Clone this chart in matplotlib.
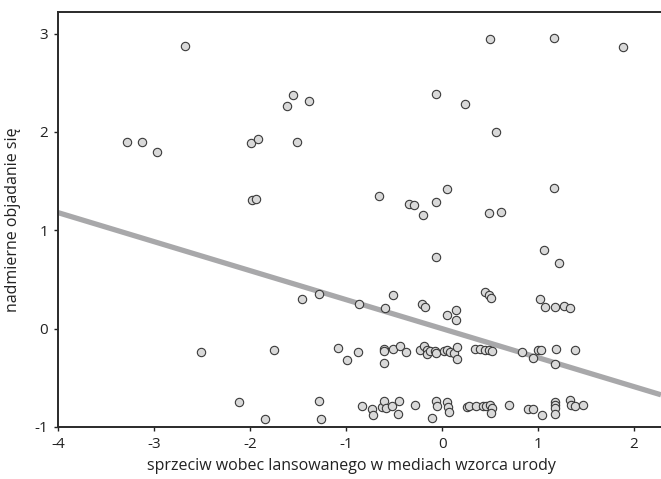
import numpy as np
import matplotlib
matplotlib.use("Agg")
import matplotlib.pyplot as plt

plt.rcParams['font.family'] = ['Open Sans', 'DejaVu Sans']

# === DATA ===
x_vals = [
    # upper part
    -2.68, -3.28, -3.13, -2.97, -1.99, -1.92, -1.98, -1.94,
    -1.55, -1.62, -1.39, -1.51, -0.06, 0.24, 0.50, 1.17, 1.88, 0.56, 1.17,
    -0.66, -0.34, -0.29, -0.20, -0.06, 0.05, 0.49, 0.61, -0.06,
    1.06, 1.22,
    # around 0.3
    -1.46, -1.28, -0.87, -0.59, -0.51, -0.21, -0.18, 0.14, 0.05, 0.14,
    0.45, 0.49, 0.51, 1.02, 1.07, 1.18, 1.27, 1.33,
    # around -0.2
    -2.51, -1.75, -1.08, -0.99, -0.88, -0.61, -0.60, -0.61, -0.51, -0.44, -0.38,
    -0.23, -0.19, -0.16, -0.16, -0.13, -0.07, -0.06, 0.02, 0.05, 0.08, 0.12,
    0.16, 0.16, 0.34, 0.40, 0.45, 0.49, 0.52,
    0.83, 0.95, 1.00, 1.03, 1.19, 1.18, 1.38,
    # bottom band
    -2.11, -1.84, -1.28, -1.26, -0.83, -0.73, -0.72, -0.63, -0.61, -0.58,
    -0.52, -0.45, -0.46, -0.28, -0.11, -0.06, -0.05, 0.05, 0.06, 0.07,
    0.26, 0.28, 0.35, 0.43, 0.46, 0.50, 0.52, 0.51, 0.70, 0.90, 0.95,
    1.04, 1.18, 1.18, 1.18, 1.18, 1.33, 1.34, 1.38, 1.47,
]
y_vals = [
    2.87, 1.90, 1.90, 1.80, 1.89, 1.93, 1.31, 1.32,
    2.38, 2.26, 2.32, 1.90, 2.39, 2.28, 2.95, 2.96, 2.86, 2.00, 1.43,
    1.35, 1.27, 1.26, 1.16, 1.29, 1.42, 1.18, 1.19, 0.73,
    0.80, 0.67,
    0.30, 0.35, 0.25, 0.21, 0.34, 0.25, 0.22, 0.19, 0.14, 0.09,
    0.37, 0.34, 0.31, 0.30, 0.22, 0.22, 0.23, 0.21,
    -0.24, -0.22, -0.20, -0.32, -0.24, -0.21, -0.23, -0.35, -0.21, -0.18, -0.24,
    -0.22, -0.18, -0.22, -0.26, -0.23, -0.23, -0.25, -0.23, -0.22, -0.24, -0.25,
    -0.19, -0.31, -0.21, -0.21, -0.22, -0.22, -0.23,
    -0.24, -0.30, -0.22, -0.22, -0.21, -0.36, -0.22,
    -0.75, -0.92, -0.74, -0.92, -0.79, -0.82, -0.88, -0.80, -0.74, -0.81,
    -0.79, -0.74, -0.87, -0.78, -0.91, -0.74, -0.79, -0.75, -0.80, -0.85,
    -0.80, -0.79, -0.79, -0.79, -0.79, -0.78, -0.81, -0.86, -0.78, -0.82, -0.82,
    -0.88, -0.75, -0.78, -0.81, -0.87, -0.73, -0.78, -0.79, -0.78,
]

# regression line (intercept, slope)
fit_intercept = 0.0
fit_slope = -0.295

x_label = "sprzeciw wobec lansowanego w mediach wzorca urody"
y_label = "nadmierne objadanie się"
x_ticks = [-4, -3, -2, -1, 0, 1, 2]
y_ticks = [-1, 0, 1, 2, 3]

# === FIGURE ===
fig = plt.figure(figsize=(6.61, 4.79), dpi=100)
ax = fig.add_axes([58 / 661, 1 - 427 / 479, 603 / 661, 415 / 479])

xlim = (-4, 2.28)
ylim = (-1, 3.22)
ax.set_xlim(*xlim)
ax.set_ylim(*ylim)

line_x = np.array(xlim)
ax.plot(line_x, fit_intercept + fit_slope * line_x, color='#a8a8aa', lw=3.8,
        solid_capstyle='butt', zorder=2)

ax.scatter(x_vals, y_vals, s=36, facecolor='#d9d9d9', edgecolor='#3a3a3a',
           linewidths=0.8, zorder=3)

ax.set_xticks(x_ticks)
ax.set_yticks(y_ticks)
ax.set_xticklabels([str(t) for t in x_ticks])
ax.set_yticklabels([str(t) for t in y_ticks])
ax.tick_params(direction='out', length=3, width=1, colors='#222222',
               labelsize=11, pad=4)

for side in ('left', 'bottom', 'top'):
    ax.spines[side].set_linewidth(1.4)
    ax.spines[side].set_color('#2a2a2a')
ax.spines['right'].set_visible(False)

ax.set_xlabel(x_label, fontsize=11.5, color='#222222')
ax.set_ylabel(y_label, fontsize=11.5, color='#222222')
ax.xaxis.set_label_coords(0.487, -0.075)
ax.yaxis.set_label_coords(-0.062, 0.5)

fig.savefig("out.png", dpi=100)
